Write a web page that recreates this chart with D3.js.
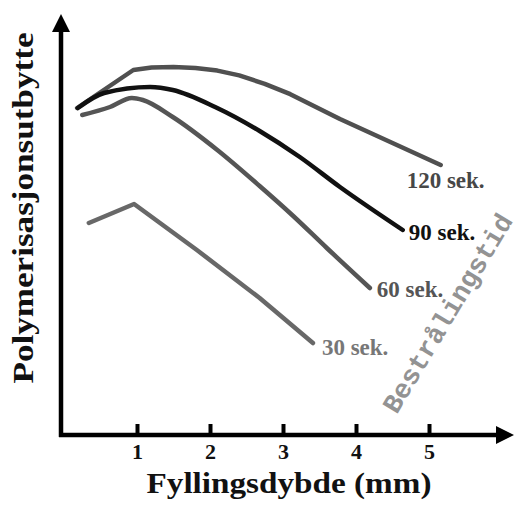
<!DOCTYPE html>
<html>
<head>
<meta charset="utf-8">
<script src="https://cdn.jsdelivr.net/npm/d3@7"></script>
<style>
  body { margin: 0; background: #fff; }
</style>
</head>
<body>
<div id="chart"></div>
<script>
// values (x in mm, y in relative yield units, no scale on y)
var depthTicks = [1, 2, 3, 4, 5];
var seriesNames = ["120 sek.", "90 sek.", "60 sek.", "30 sek."];

var depth120 = [0.18, 0.95, 1.2, 1.5, 1.8, 2.1, 2.4, 2.75, 3.10, 3.78, 4.47, 5.16];
var yield120 = [81.75, 91.25, 91.9, 92, 91.75, 91.1, 89.9, 87.8, 85.2, 79, 73.25, 67.5];

var depth90 = [0.19, 0.55, 1.18, 1.49, 2.07, 2.68, 3.23, 3.78, 4.64];
var yield90 = [81.75, 85.5, 87, 86.25, 82, 76, 69.5, 62, 51.25];

var depth60 = [0.25, 0.63, 0.93, 1.08, 1.49, 2.10, 2.68, 3.14, 3.60, 4.19];
var yield60 = [80, 82, 84.25, 83.75, 79.5, 71.25, 62.25, 54.75, 46.75, 36.75];

var depth30 = [0.34, 0.96, 1.82, 2.68, 3.41];
var yield30 = [53, 57.75, 46.25, 34.25, 23];

var width = 522, height = 506;

var svg = d3.select("#chart")
  .append("svg")
    .attr("width", width)
    .attr("height", height);

var x = d3.scaleLinear().domain([0, 6]).range([64, 502]);
var y = d3.scaleLinear().domain([0, 100]).range([435, 35]);

// build the series table from the arrays
var series = [
  {name: seriesNames[0], xs: depth120, ys: yield120},
  {name: seriesNames[1], xs: depth90, ys: yield90},
  {name: seriesNames[2], xs: depth60, ys: yield60},
  {name: seriesNames[3], xs: depth30, ys: yield30}
].map(function(s) {
  s.points = s.xs.map(function(v, i) { return [v, s.ys[i]]; });
  return s;
});

// line and label look per series
var lineColor = {"120 sek.": "#505050", "90 sek.": "#111", "60 sek.": "#555", "30 sek.": "#686868"};
var labelColor = {"120 sek.": "#474747", "90 sek.": "#111", "60 sek.": "#555", "30 sek.": "#777"};
var labelOffset = {"120 sek.": [-34, 23], "90 sek.": [6, 10], "60 sek.": [7, 9], "30 sek.": [9, 12]};
// 120 and 30 have a sharp bend, 90 and 60 are drawn smooth
var lineCurve = {"120 sek.": d3.curveLinear, "90 sek.": d3.curveMonotoneX, "60 sek.": d3.curveMonotoneX, "30 sek.": d3.curveLinear};

// arrow heads
var defs = svg.append("defs");
defs.append("marker")
    .attr("id", "arrow")
    .attr("viewBox", "0 0 18 18")
    .attr("refX", 2)
    .attr("refY", 9)
    .attr("markerWidth", 18)
    .attr("markerHeight", 18)
    .attr("markerUnits", "userSpaceOnUse")
    .attr("orient", "auto")
  .append("path")
    .attr("d", "M0,0 L18,9 L0,18 Z")
    .attr("fill", "#000");

// lines
svg.selectAll("myPath")
  .data(series)
  .enter()
  .append("path")
    .attr("class", "line")
    .attr("d", function(d) {
      return d3.line()
        .curve(lineCurve[d.name])
        .x(function(p) { return x(p[0]); })
        .y(function(p) { return y(p[1]); })(d.points);
    })
    .style("fill", "none")
    .style("stroke", function(d) { return lineColor[d.name]; })
    .style("stroke-width", 4.5)
    .style("stroke-linejoin", "round")
    .style("stroke-linecap", "round");

// series labels at the end of each line
svg.selectAll("myLabel")
  .data(series)
  .enter()
  .append("text")
    .attr("x", function(d) { var p = d.points[d.points.length - 1]; return x(p[0]) + labelOffset[d.name][0]; })
    .attr("y", function(d) { var p = d.points[d.points.length - 1]; return y(p[1]) + labelOffset[d.name][1]; })
    .text(function(d) { return d.name; })
    .style("font-family", "'Liberation Serif', 'Times New Roman', serif")
    .style("font-weight", "bold")
    .style("font-size", "23px")
    .style("fill", function(d) { return labelColor[d.name]; });

// x axis with ticks pointing up
var xAxis = svg.append("g")
  .attr("transform", "translate(0," + y(0) + ")")
  .call(d3.axisBottom(x).tickValues(depthTicks).tickFormat(d3.format("d"))
    .tickSizeInner(-11).tickSizeOuter(0).tickPadding(8));
xAxis.select(".domain").remove();
xAxis.selectAll(".tick line").attr("stroke", "#000").attr("stroke-width", 4);
xAxis.selectAll(".tick text")
  .style("font-family", "'Liberation Serif', 'Times New Roman', serif")
  .style("font-weight", "bold")
  .style("font-size", "22px")
  .style("fill", "#111");

// axis lines with arrows
svg.append("path")
  .attr("d", "M" + (x(0) - 5) + "," + y(0) + "H" + (x(6) - 4))
  .attr("stroke", "#000").attr("stroke-width", 4.5).attr("fill", "none")
  .attr("marker-end", "url(#arrow)");
svg.append("path")
  .attr("d", "M" + (x(0) - 3) + "," + (y(0) + 2) + "V" + (y(100) - 5))
  .attr("stroke", "#000").attr("stroke-width", 4.5).attr("fill", "none")
  .attr("marker-end", "url(#arrow)");

// axis titles
svg.append("text")
  .attr("x", 289)
  .attr("y", 493)
  .attr("text-anchor", "middle")
  .attr("textLength", 285)
  .attr("lengthAdjust", "spacingAndGlyphs")
  .text("Fyllingsdybde (mm)")
  .style("font-family", "'Liberation Serif', 'Times New Roman', serif")
  .style("font-weight", "bold")
  .style("font-size", "30px")
  .style("fill", "#111");

svg.append("text")
  .attr("transform", "translate(33,208) rotate(-90)")
  .attr("text-anchor", "middle")
  .attr("textLength", 351)
  .attr("lengthAdjust", "spacingAndGlyphs")
  .text("Polymerisasjonsutbytte")
  .style("font-family", "'Liberation Serif', 'Times New Roman', serif")
  .style("font-weight", "bold")
  .style("font-size", "30px")
  .style("fill", "#111");

// rotated group title
svg.append("text")
  .attr("transform", "translate(447,313) rotate(-59)")
  .attr("text-anchor", "middle")
  .attr("dy", "0.35em")
  .text("Bestrålingstid")
  .style("font-family", "'Liberation Mono', 'Courier New', monospace")
  .style("font-weight", "bold")
  .style("font-size", "27px")
  .style("fill", "#939393");
</script>
</body>
</html>
